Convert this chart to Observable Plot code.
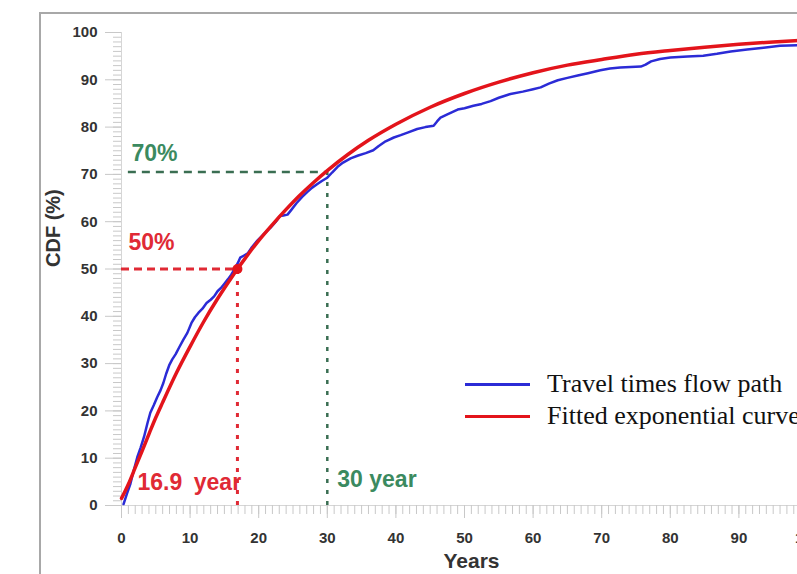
<!DOCTYPE html>
<html><head><meta charset="utf-8">
<script src="https://cdn.jsdelivr.net/npm/d3@7"></script>
<script src="https://cdn.jsdelivr.net/npm/@observablehq/plot@0.6"></script>
<style>
html,body{margin:0;padding:0;overflow:hidden;background:#fff;width:797px;height:574px}
#frame{position:absolute;left:39px;top:12px;width:900px;height:700px;border:2px solid #a8a8a8;box-sizing:border-box}
#chart{position:absolute;left:0;top:0;width:850px;height:574px}
#chart svg{max-width:none !important;width:850px !important;height:574px !important}
#legend{position:absolute;left:465px;top:368px;font-family:"Liberation Serif","Times New Roman",serif;font-size:26px;color:#111;white-space:nowrap}
.row{display:flex;align-items:center;height:32px;line-height:32px}
.sw{width:65px;height:3px;margin-right:17px;flex:none}
</style></head><body>
<div id="frame"></div><div id="chart"></div><div id="legend"></div>
<script>
// ---- data ----
const travelYears = [0.3,0.8,1.3,1.8,2.3,2.8,3.3,3.8,4.2,4.7,5.2,5.7,6.1,6.5,7.0,7.4,7.9,8.4,9.0,9.6,10.2,10.7,11.2,11.8,12.4,13.0,13.5,14.0,14.5,15.0,15.5,16.0,16.5,17.0,17.3,17.8,18.4,19.0,19.8,20.7,21.7,22.5,23.1,23.6,24.2,24.7,25.5,26.3,27.1,27.8,28.5,29.2,30.0,30.7,31.5,32.3,33.4,34.5,35.6,36.7,37.5,38.5,39.7,40.7,41.8,43.1,44.3,45.5,46.0,46.5,47.5,49.0,50.0,51.3,52.5,53.8,55.0,56.7,58.5,60.0,61.1,62.3,63.6,65.0,66.5,68.0,69.8,71.2,72.7,74.2,75.7,76.4,77.2,78.5,80.0,82.5,84.8,86.8,88.8,91.2,93.6,96.0,98.5,100];
const travelCdf = [0.3,2.5,4.6,7.5,10.2,12.3,14.6,17.5,19.6,21.2,22.9,24.4,25.9,27.8,29.8,30.9,32.0,33.4,35.0,36.5,38.6,39.8,40.7,41.6,42.8,43.5,44.2,45.3,46.0,46.9,47.8,48.8,50.0,51.4,52.4,52.8,53.3,54.6,56.0,57.3,58.7,60.0,61.2,61.3,61.5,62.4,63.9,65.2,66.3,67.2,67.9,68.6,69.3,70.4,71.6,72.5,73.4,74.0,74.5,75.1,76.0,77.0,77.8,78.3,78.9,79.6,80.0,80.3,81.2,82.0,82.7,83.7,84.0,84.5,84.9,85.5,86.2,87.0,87.5,88.0,88.4,89.2,89.9,90.4,90.9,91.4,92.0,92.4,92.6,92.7,92.8,93.2,93.9,94.4,94.7,94.9,95.1,95.5,96.0,96.4,96.8,97.2,97.3,97.4];
const fitYears = [0,1,2,3,4,5,6,8,10,12,14,16,17,18,20,22,24,26,28,30,33,36,40,45,50,55,60,65,70,75,80,85,90,95,100];
const fitCdf   = [1.5,4.5,8.0,11.5,15.1,18.6,21.8,28.0,33.6,38.9,43.7,48.1,50.2,52.2,56.0,59.4,62.6,65.6,68.3,70.8,74.2,77.2,80.6,84.2,87.1,89.5,91.5,93.1,94.3,95.4,96.2,96.9,97.5,98.0,98.4];
const xTicks = [0,10,20,30,40,50,60,70,80,90,100];
const yTicks = [0,10,20,30,40,50,60,70,80,90,100];
const xMinorTicks = d3.range(0, 101, 1);
const yMinorTicks = d3.range(0, 101, 1);
const median = {x: 16.9, y: 50};
const p70 = {x: 30, y: 70.5, xStart: 1};
const seriesNames = ["Travel times flow path", "Fitted exponential curve"];

// ---- styles ----
const BLUE = "#2b2bd6", RED = "#e3141b", RED_T = "#e02a35", GREEN_T = "#3b8a60", GREEN_L = "#3a6e52";
const AX = "#c8c8c8", LBL = "#333";

const travel = travelYears.map((x, i) => ({x, y: travelCdf[i]}));
const fitted = fitYears.map((x, i) => ({x, y: fitCdf[i]}));

const chart = Plot.plot({
  width: 850, height: 574,
  marginLeft: 121, marginRight: 43, marginTop: 32, marginBottom: 69,
  x: {domain: [0, 100]},
  y: {domain: [0, 100]},
  style: {fontFamily: "'Liberation Sans', Arial, sans-serif", background: "transparent", overflow: "visible", maxWidth: "none"},
  marks: [
    Plot.ruleY([0], {stroke: "#d6d6d6"}),
    Plot.ruleX([0], {stroke: "#d6d6d6"}),
    Plot.axisX({ticks: xMinorTicks, tickSize: 9, tickFormat: () => "", stroke: AX, label: null}),
    Plot.axisX({ticks: xTicks, tickSize: 13, tickPadding: 14, stroke: AX, fill: LBL, fontSize: 15, fontWeight: "bold", label: null}),
    Plot.axisY({ticks: yMinorTicks, tickSize: 8, tickFormat: () => "", stroke: AX, label: null}),
    Plot.axisY({ticks: yTicks, tickSize: 16, tickPadding: 8, stroke: AX, fill: LBL, fontSize: 15, fontWeight: "bold", label: null}),
    Plot.text(["Years"], {text: d => d, frameAnchor: "bottom", lineAnchor: "middle", dx: 7, dy: 56, fontSize: 21, fontWeight: "bold", fill: LBL}),
    Plot.text(["CDF (%)"], {text: d => d, frameAnchor: "left", lineAnchor: "middle", rotate: -90, dx: -68, dy: -2, fontSize: 20, fontWeight: "bold", fill: LBL}),
    // guide lines
    Plot.ruleY([p70], {y: "y", x1: "xStart", x2: "x", stroke: GREEN_L, strokeWidth: 2.5, strokeDasharray: "8,6"}),
    Plot.ruleX([p70], {x: "x", y1: 0, y2: "y", stroke: GREEN_L, strokeWidth: 2.5, strokeDasharray: "4,7"}),
    Plot.ruleY([median], {y: "y", x1: 0, x2: "x", stroke: RED_T, strokeWidth: 3, strokeDasharray: "8,5"}),
    Plot.ruleX([median], {x: "x", y1: 0, y2: "y", stroke: RED_T, strokeWidth: 3, strokeDasharray: "4,7"}),
    // curves
    Plot.line(travel, {x: "x", y: "y", stroke: BLUE, strokeWidth: 2.5}),
    Plot.line(fitted, {x: "x", y: "y", stroke: RED, strokeWidth: 3.5, curve: "monotone-x"}),
    Plot.dot([median], {x: "x", y: "y", r: 5, fill: RED}),
    // annotations
    Plot.text([p70], {x: 0, y: "y", text: () => "70%", textAnchor: "start", dx: 10, dy: -18.5, fontSize: 23, fontWeight: "bold", fill: GREEN_T}),
    Plot.text([median], {x: 0, y: "y", text: () => "50%", textAnchor: "start", dx: 7, dy: -26, fontSize: 23, fontWeight: "bold", fill: RED_T}),
    Plot.text([median], {x: 0, y: 0, text: d => d.x + "\u2002year", textAnchor: "start", dx: 16, dy: -22.5, fontSize: 23, fontWeight: "bold", fill: RED_T}),
    Plot.text([p70], {x: "x", y: 0, text: d => d.x + " year", textAnchor: "start", dx: 10, dy: -25.5, fontSize: 23, fontWeight: "bold", fill: GREEN_T})
  ]
});
document.getElementById("chart").appendChild(chart);

const legend = document.getElementById("legend");
[[seriesNames[0], BLUE], [seriesNames[1], RED]].forEach(([name, c]) => {
  const row = document.createElement("div");
  row.className = "row";
  const sw = document.createElement("span");
  sw.className = "sw";
  sw.style.background = c;
  const t = document.createElement("span");
  t.textContent = name;
  row.appendChild(sw); row.appendChild(t);
  legend.appendChild(row);
});
</script></body></html>
